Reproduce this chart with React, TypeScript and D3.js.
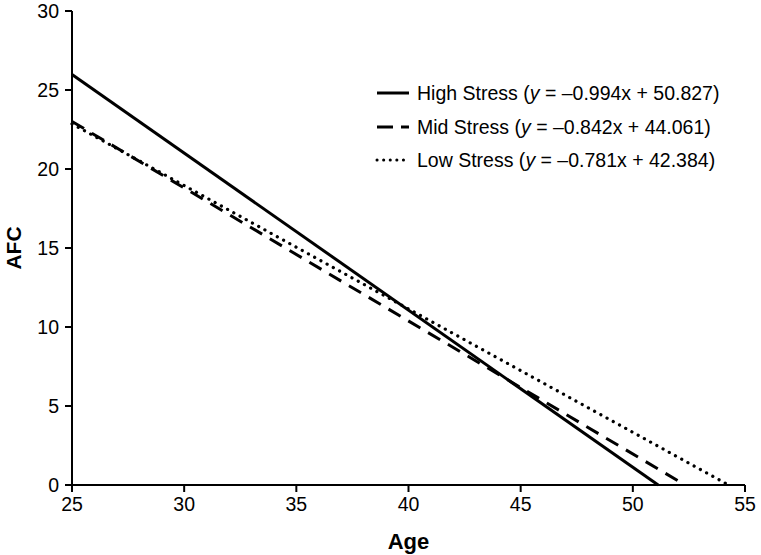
import React from "react";
import * as d3 from "d3";

const seriesNames = ["High Stress", "Mid Stress", "Low Stress"];
const equations = ["–0.994x + 50.827", "–0.842x + 44.061", "–0.781x + 42.384"];
const lineAges = [
  [25, 51.13],
  [25, 52.33],
  [25, 54.27],
];
const lineAFC = [
  [25.98, 0],
  [23.01, 0],
  [22.86, 0],
];
const xTicks = [25, 30, 35, 40, 45, 50, 55];
const yTicks = [0, 5, 10, 15, 20, 25, 30];
const dashes = ["none", "14 9", "0.1 7"];

export default function App() {
  const W = 761, H = 555;
  const left = 72, right = 745, top = 11, bottom = 485;
  const x = d3.scaleLinear().domain([25, 55]).range([left, right]);
  const y = d3.scaleLinear().domain([0, 30]).range([bottom, top]);
  const line = d3.line<[number, number]>().x(d => x(d[0])).y(d => y(d[1]));
  const font = "'Liberation Sans', Arial, Helvetica, sans-serif";
  const legendY = [93, 127, 160];

  return (
    <svg width={W} height={H} style={{ position: "absolute", left: 0, top: 0, background: "#fff" }} fontFamily={font}>
      <rect width={W} height={H} fill="#fff" />
      {seriesNames.map((n, i) => {
        const pts: [number, number][] = lineAges[i].map((a, j) => [a, lineAFC[i][j]]);
        return (
          <path key={n} d={line(pts) || ""} fill="none" stroke="#000" strokeWidth={i === 2 ? 3.2 : 3}
            strokeDasharray={dashes[i]} strokeLinecap={i === 2 ? "round" : "butt"} />
        );
      })}
      {/* axes */}
      <line x1={left} x2={left} y1={top} y2={bottom} stroke="#000" strokeWidth={2} />
      <line x1={left} x2={right} y1={bottom} y2={bottom} stroke="#000" strokeWidth={2} />
      {yTicks.map(t => (
        <g key={"y" + t}>
          <line x1={left - 7} x2={left} y1={y(t)} y2={y(t)} stroke="#000" strokeWidth={2} />
          <text x={left - 13} y={y(t)} dy="0.35em" textAnchor="end" fontSize={19.5}>{t}</text>
        </g>
      ))}
      {xTicks.map(t => (
        <g key={"x" + t}>
          <line x1={x(t)} x2={x(t)} y1={bottom} y2={bottom + 7} stroke="#000" strokeWidth={2} />
          <text x={x(t)} y={bottom + 26} textAnchor="middle" fontSize={19.5}>{t}</text>
        </g>
      ))}
      <text x={(left + right) / 2} y={549} textAnchor="middle" fontSize={22} fontWeight="bold">Age</text>
      <text transform={`translate(21,${(top + bottom) / 2}) rotate(-90)`} textAnchor="middle" fontSize={21} fontWeight="bold">AFC</text>
      {/* legend */}
      {seriesNames.map((n, i) => (
        <g key={"lg" + n}>
          <line x1={377} x2={409} y1={legendY[i]} y2={legendY[i]} stroke="#000" strokeWidth={3}
            strokeDasharray={i === 1 ? "16 8" : i === 2 ? "0.1 6.5" : "none"} strokeLinecap={i === 2 ? "round" : "butt"} />
          <text x={417} y={legendY[i]} dy="0.35em" fontSize={19.5}>
            {n} (<tspan fontStyle="italic">y</tspan> = {equations[i]})
          </text>
        </g>
      ))}
    </svg>
  );
}
